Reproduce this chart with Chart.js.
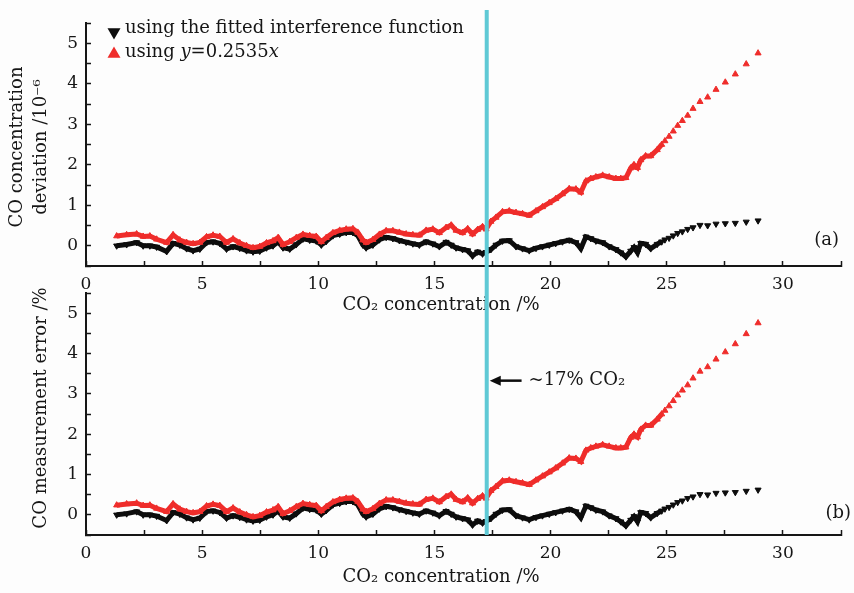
<!DOCTYPE html>
<html>
<head>
<meta charset="utf-8">
<script src="https://cdn.jsdelivr.net/npm/chart.js@4.4.0/dist/chart.umd.min.js"></script>
<style>
  html, body { margin: 0; padding: 0; background: #fdfdfd; }
  #wrap { position: relative; width: 854px; height: 593px; }
  canvas { position: absolute; left: 0; }
  #chartA { top: 0; }
  #chartB { top: 270px; }
</style>
</head>
<body>
<div id="wrap">
  <canvas id="chartA" width="854" height="320"></canvas>
  <canvas id="chartB" width="854" height="323"></canvas>
</div>
<script>
// CO2 concentration (%) of the densely sampled part
const co2Dense = [
  1.32, 1.75, 2.18, 2.46, 2.75, 3.04, 3.47, 3.75, 4.04, 4.33, 4.61, 4.90,
  5.19, 5.47, 5.76, 6.05, 6.33, 6.62, 6.91, 7.19, 7.48, 7.77, 8.05,
  8.27, 8.48, 8.77, 9.05, 9.34, 9.63, 9.91, 10.13, 10.34, 10.63, 10.92,
  11.20, 11.49, 11.70, 11.92, 12.06, 12.35, 12.63, 12.92, 13.21, 13.49, 13.78, 14.07,
  14.35, 14.64, 14.93, 15.21, 15.50, 15.72, 15.93, 16.21, 16.43, 16.64, 16.86,
  17.07, 17.22, 17.43, 17.65, 17.93, 18.22, 18.51, 18.79, 19.08, 19.37, 19.65, 19.94,
  20.22, 20.51, 20.80, 21.09, 21.30, 21.52, 21.73, 21.95, 22.24, 22.52, 22.81,
  23.02, 23.24, 23.45, 23.59, 23.74, 23.88, 24.09, 24.31, 24.59, 24.78
];
// deviation when using the fitted interference function
const fittedDense = [
  0.00, 0.03, 0.08, 0.00, 0.00, -0.03, -0.14, 0.06, 0.02, -0.07, -0.12, -0.08,
  0.08, 0.10, 0.06, -0.08, -0.02, -0.06, -0.12, -0.15, -0.13, -0.05, 0.00,
  0.10, -0.05, -0.08, 0.03, 0.17, 0.14, 0.12, 0.02, 0.11, 0.25, 0.29,
  0.33, 0.33, 0.25, 0.02, -0.05, 0.02, 0.15, 0.21, 0.18, 0.13, 0.09, 0.05,
  0.02, 0.10, 0.05, -0.02, 0.09, 0.02, -0.05, -0.09, -0.12, -0.25, -0.15,
  -0.20, -0.16, -0.09, 0.02, 0.12, 0.13, -0.02, -0.07, -0.12, -0.06, -0.02, 0.02,
  0.06, 0.10, 0.14, 0.08, -0.07, 0.22, 0.18, 0.12, 0.08, -0.02, -0.09,
  -0.17, -0.27, -0.13, -0.04, -0.17, 0.06, 0.04, -0.07, 0.04, 0.10
];
// deviation when using y = 0.2535x
const linearDense = [
  0.24, 0.27, 0.29, 0.23, 0.24, 0.16, 0.08, 0.27, 0.14, 0.08, 0.05, 0.08,
  0.22, 0.26, 0.23, 0.08, 0.17, 0.07, 0.00, -0.05, -0.02, 0.07, 0.12,
  0.20, 0.03, 0.10, 0.20, 0.28, 0.25, 0.23, 0.10, 0.20, 0.32, 0.38,
  0.41, 0.42, 0.33, 0.14, 0.08, 0.15, 0.28, 0.37, 0.37, 0.33, 0.29, 0.27,
  0.26, 0.38, 0.41, 0.32, 0.45, 0.51, 0.38, 0.32, 0.42, 0.29, 0.40,
  0.47, 0.41, 0.60, 0.70, 0.84, 0.86, 0.82, 0.79, 0.75, 0.86, 0.96, 1.06,
  1.16, 1.28, 1.41, 1.40, 1.32, 1.60, 1.66, 1.70, 1.74, 1.70, 1.66,
  1.66, 1.68, 1.92, 2.00, 1.93, 2.12, 2.22, 2.22, 2.37, 2.50
];
// sparse points at high CO2
const co2Tail = [24.92, 25.10, 25.28, 25.47, 25.67, 25.90, 26.13, 26.43, 26.76, 27.12, 27.52, 27.95, 28.42, 28.93];
const fittedTail = [0.15, 0.19, 0.25, 0.31, 0.35, 0.41, 0.45, 0.51, 0.50, 0.54, 0.55, 0.56, 0.59, 0.62];
const linearTail = [2.59, 2.70, 2.83, 2.97, 3.09, 3.22, 3.39, 3.56, 3.67, 3.86, 4.04, 4.24, 4.49, 4.76];

const seriesLabels = ["using the fitted interference function", "using y=0.2535x"];
const thresholdCO2 = 17.25;

const FONT = "'DejaVu Serif', serif";
const INK = "#161616";
const RED = "#ef2d2b";
const BLACK = "#0d0d0d";
const CYAN = "#5fc9d5";

function toPoints(xs, ys) {
  return xs.map((x, i) => ({ x: x, y: ys[i] }));
}

function makeDatasets() {
  // red first so it is drawn on top of the black band
  return [
    { label: seriesLabels[1], data: toPoints(co2Dense, linearDense), showLine: true,
      borderColor: RED, backgroundColor: RED, borderWidth: 5,
      pointStyle: "triangle", pointRadius: 3.5, pointBorderWidth: 1, pointBorderColor: RED },
    { label: seriesLabels[1], data: toPoints(co2Tail, linearTail), showLine: false,
      backgroundColor: RED, borderColor: RED,
      pointStyle: "triangle", pointRadius: 3.5, pointBorderWidth: 1 },
    { label: seriesLabels[0], data: toPoints(co2Dense, fittedDense), showLine: true,
      borderColor: BLACK, backgroundColor: BLACK, borderWidth: 5,
      pointStyle: "triangle", rotation: 180, pointRadius: 3.5, pointBorderWidth: 1, pointBorderColor: BLACK },
    { label: seriesLabels[0], data: toPoints(co2Tail, fittedTail), showLine: false,
      backgroundColor: BLACK, borderColor: BLACK,
      pointStyle: "triangle", rotation: 180, pointRadius: 3.5, pointBorderWidth: 1 }
  ];
}

function isMultiple(v, step) {
  return Math.abs(v / step - Math.round(v / step)) < 1e-6;
}

function makeScales(xAxisHeight) {
  return {
    x: {
      type: "linear", min: 0, max: 32.5,
      ticks: {
        stepSize: 2.5, autoSkip: false, maxRotation: 0, padding: 13,
        color: INK, font: { family: FONT, size: 17 },
        callback: v => isMultiple(v, 5) ? String(Math.round(v)) : ""
      },
      grid: { drawOnChartArea: false, tickLength: -5, tickColor: INK, tickWidth: 1.5 },
      border: { color: INK, width: 2 },
      afterFit: s => { s.height = xAxisHeight; }
    },
    y: {
      type: "linear", min: -0.5, max: 5.5,
      ticks: {
        stepSize: 0.5, autoSkip: false, padding: 13,
        color: INK, font: { family: FONT, size: 17 },
        callback: v => isMultiple(v, 1) ? String(Math.round(v)) : ""
      },
      grid: { drawOnChartArea: false, tickLength: -5, tickColor: INK, tickWidth: 1.5 },
      border: { color: INK, width: 2 },
      afterFit: s => { s.width = 86; }
    }
  };
}

function text(ctx, str, x, y, align, size, style) {
  ctx.font = (style || "") + " " + (size || 18) + "px " + FONT;
  ctx.textAlign = align || "left";
  ctx.textBaseline = "middle";
  ctx.fillText(str, x, y);
  return ctx.measureText(str).width;
}

function drawMarker(ctx, color, rotation, x, y) {
  ctx.save();
  ctx.fillStyle = color;
  ctx.strokeStyle = color;
  Chart.helpers.drawPoint(ctx, { pointStyle: "triangle", radius: 3.5, rotation: rotation, borderWidth: 1 }, x, y);
  ctx.restore();
}

// axis titles, cyan marker line, legend and notes for one panel
function panelPlugin(cfg) {
  return {
    id: "panel" + cfg.tag,
    afterDatasetsDraw(chart) {
      const ctx = chart.ctx;
      const xs = chart.scales.x, ys = chart.scales.y;
      ctx.save();

      // vertical line at ~17% CO2
      const lx = xs.getPixelForValue(thresholdCO2);
      ctx.strokeStyle = CYAN;
      ctx.lineWidth = 4;
      ctx.beginPath();
      ctx.moveTo(lx, cfg.lineTop);
      ctx.lineTo(lx, cfg.lineBottom === undefined ? chart.chartArea.bottom : cfg.lineBottom);
      ctx.stroke();

      ctx.fillStyle = INK;
      // y title
      ctx.save();
      ctx.translate(0, cfg.yTitleY);
      ctx.rotate(-Math.PI / 2);
      cfg.yTitle.forEach((line, i) => {
        text(ctx, line, 0, cfg.yTitleX[i], "center", 18);
      });
      ctx.restore();

      // x title with subscript 2
      text(ctx, "CO\u2082 concentration /%", 441, cfg.xTitleY, "center", 18);

      // panel tag
      text(ctx, "(" + cfg.tag + ")", cfg.tagX, cfg.tagY, "right", 18);

      if (cfg.legend) {
        drawMarker(ctx, BLACK, 180, 114, 32);
        text(ctx, seriesLabels[0], 125, 28, "left", 18);
        drawMarker(ctx, RED, 0, 114, 54);
        let x = 125;
        x += text(ctx, "using ", x, 52, "left", 18);
        x += text(ctx, "y", x, 52, "left", 18, "italic");
        x += text(ctx, "=0.2535", x, 52, "left", 18);
        text(ctx, "x", x, 52, "left", 18, "italic");
      }

      if (cfg.note) {
        const ay = ys.getPixelForValue(3.33);
        const tip = xs.getPixelForValue(17.38);
        const tail = xs.getPixelForValue(18.75);
        ctx.strokeStyle = BLACK;
        ctx.fillStyle = BLACK;
        ctx.lineWidth = 2.5;
        ctx.beginPath();
        ctx.moveTo(tail, ay);
        ctx.lineTo(tip + 8, ay);
        ctx.stroke();
        ctx.beginPath();
        ctx.moveTo(tip, ay);
        ctx.lineTo(tip + 11, ay - 5);
        ctx.lineTo(tip + 11, ay + 5);
        ctx.closePath();
        ctx.fill();
        ctx.fillStyle = INK;
        text(ctx, "~17% CO\u2082", xs.getPixelForValue(19.05), ay, "left", 18);
      }
      ctx.restore();
    }
  };
}

function makeChart(id, padding, xAxisHeight, cfg) {
  return new Chart(document.getElementById(id).getContext("2d"), {
    type: "scatter",
    data: { datasets: makeDatasets() },
    options: {
      responsive: false,
      animation: false,
      events: [],
      layout: { padding: padding },
      plugins: { legend: { display: false }, tooltip: { enabled: false }, title: { display: false } },
      scales: makeScales(xAxisHeight)
    },
    plugins: [panelPlugin(cfg)]
  });
}

// (a) CO concentration deviation, 10^-6
makeChart("chartA", { top: 6, right: 12, bottom: 0, left: 0 }, 54, {
  tag: "a", tagX: 839, tagY: 240,
  lineTop: 10, lineBottom: 270,
  yTitle: ["CO concentration", "deviation /10\u207B\u2076"], yTitleX: [17.5, 41.5], yTitleY: 147,
  xTitleY: 305, legend: true
});

// (b) CO measurement error, %
makeChart("chartB", { top: 7, right: 9, bottom: 0, left: 0 }, 58, {
  tag: "b", tagX: 851, tagY: 243,
  lineTop: 0,
  yTitle: ["CO measurement error /%"], yTitleX: [41], yTitleY: 138,
  xTitleY: 307, note: true
});
</script>
</body>
</html>
